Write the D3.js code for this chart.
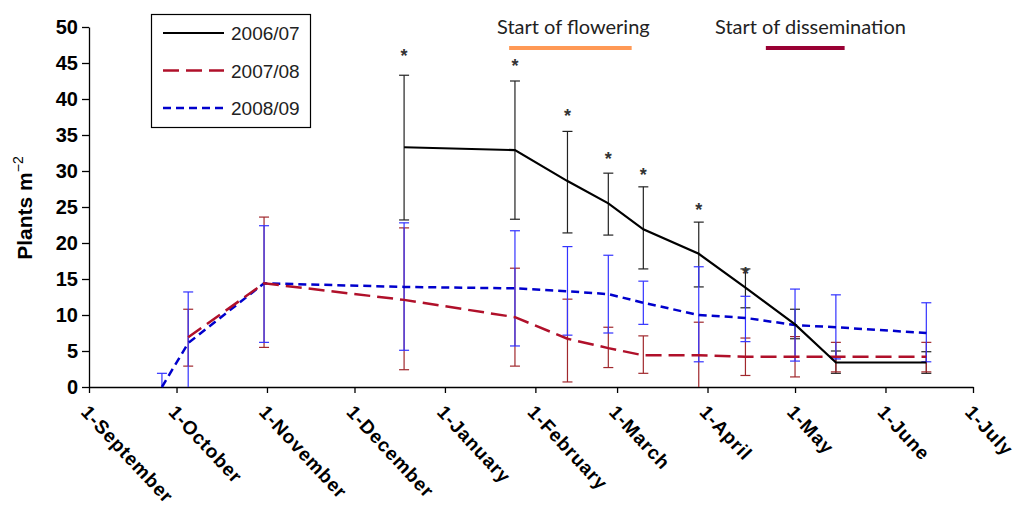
<!DOCTYPE html>
<html>
<head>
<meta charset="utf-8">
<script src="https://cdn.jsdelivr.net/npm/d3@7"></script>
<style>
  body { margin: 0; background: #fff; }
  svg { display: block; }
</style>
</head>
<body>
<div id="chart-area"></div>
<script>
// sampling dates (one season, Sept -> July)
var dates = ["2006-09-26", "2006-10-05", "2006-10-31", "2006-12-18", "2007-01-25", "2007-02-12",
	"2007-02-26", "2007-03-10", "2007-03-29", "2007-04-14", "2007-05-01", "2007-05-15", "2007-06-15"];

var mean06 = [null, null, null, 33.3, 32.9, 28.6, 25.5, 21.9, 18.5, 13.8, 8.7, 3.4, 3.4];
var hi06   = [null, null, null, 43.3, 42.5, 35.5, 29.7, 27.8, 22.9, 16.4, 10.8, 5.0, 4.9];
var lo06   = [null, null, null, 23.2, 23.3, 21.4, 21.1, 16.4, 13.9, 11.0, 6.7, 1.9, 1.9];

var mean07 = [null, 6.9, 14.4, 12.1, 9.7, 6.7, 5.4, 4.4, 4.4, 4.2, 4.2, 4.2, 4.2];
var hi07   = [null, 10.8, 23.6, 22.1, 16.5, 12.2, 8.3, 7.1, 9.0, 6.8, 7.0, 6.2, 6.2];
var lo07   = [null, 2.9, 5.5, 2.4, 2.9, 0.7, 2.7, 1.9, 0, 1.6, 1.4, 2.1, 2.1];

var mean08 = [0, 6.1, 14.4, 13.9, 13.7, 13.3, 12.9, 11.7, 10.0, 9.6, 8.6, 8.3, 7.5];
var hi08   = [1.9, 13.2, 22.4, 22.8, 21.7, 19.5, 18.3, 14.7, 16.7, 12.6, 13.6, 12.8, 11.7];
var lo08   = [0, 0, 6.2, 5.1, 5.7, 7.2, 7.5, 8.7, 3.5, 6.3, 3.6, 3.9, 3.5];

// significance stars (2006/07), height in plants m-2
var stars = [null, null, null, 46.6, 45.2, 38.3, 32.3, 30.1, 25.3, 16.4, null, null, null];

var monthTicks = ["2006-09-01", "2006-10-01", "2006-11-01", "2006-12-01", "2007-01-01", "2007-02-01",
	"2007-03-01", "2007-04-01", "2007-05-01", "2007-06-01", "2007-07-01"];
var monthLabels = ["1-September", "1-October", "1-November", "1-December", "1-January", "1-February",
	"1-March", "1-April", "1-May", "1-June", "1-July"];
var yTicks = [0, 5, 10, 15, 20, 25, 30, 35, 40, 45, 50];

var phases = [
	{label: "Start of flowering", from: "2007-01-23", to: "2007-03-06", color: "#ff9955"},
	{label: "Start of dissemination", from: "2007-04-21", to: "2007-05-18", color: "#990033"}
];

var parse = d3.timeParse("%Y-%m-%d");

var series = [
	{name: "2006/07", mean: mean06, hi: hi06, lo: lo06, color: "#000000", bar: "#222222", dash: null, width: 2.2},
	{name: "2007/08", mean: mean07, hi: hi07, lo: lo07, color: "#b0102a", bar: "#a0282d", dash: "16,7", width: 2.5},
	{name: "2008/09", mean: mean08, hi: hi08, lo: lo08, color: "#0000cc", bar: "#3333ff", dash: "8,5", width: 2.5}
];

var svg = d3.select("#chart-area").append("svg").attr("width", 1020).attr("height", 505);

var x = d3.scaleTime()
	.domain([parse(monthTicks[0]), parse(monthTicks[monthTicks.length - 1])])
	.range([89, 973]);
var y = d3.scaleLinear().domain([0, 50]).range([387, 27]);

// axes
var bottomAxis = d3.axisBottom(x)
	.tickValues(monthTicks.map(parse))
	.tickSize(6)
	.tickSizeOuter(0)
	.tickFormat("");
var leftAxis = d3.axisLeft(y)
	.tickValues(yTicks)
	.tickSize(7)
	.tickSizeOuter(0)
	.tickPadding(4);

var xg = svg.append("g").attr("transform", "translate(0, 387)").call(bottomAxis);
var yg = svg.append("g").attr("transform", "translate(89, 0)").call(leftAxis);

svg.selectAll(".domain, .tick line").attr("stroke", "#000").attr("stroke-width", 1.3);
yg.selectAll("text")
	.attr("font-family", "Liberation Sans, Arial, sans-serif")
	.attr("font-weight", "bold")
	.attr("font-size", "20px")
	.attr("fill", "#000");

svg.append("g").selectAll("text")
	.data(monthTicks)
	.enter().append("text")
	.attr("transform", (d) => "translate(" + (x(parse(d)) - 9) + ", 413) rotate(47)")
	.attr("font-family", "Liberation Sans, Arial, sans-serif")
	.attr("font-weight", "bold")
	.attr("font-size", "19px")
	.attr("letter-spacing", "0.9px")
	.attr("fill", "#000")
	.text((d, i) => monthLabels[i]);

// y label
var ylab = svg.append("text")
	.attr("transform", "translate(32, 208) rotate(-90)")
	.attr("text-anchor", "middle")
	.attr("font-family", "Liberation Sans, Arial, sans-serif")
	.attr("font-weight", "bold")
	.attr("font-size", "21px")
	.attr("fill", "#000");
ylab.append("tspan").text("Plants m");
ylab.append("tspan").attr("dy", "-9").attr("font-size", "14px").attr("font-weight", "normal").text("\u22122");

// error bars
series.forEach(function(s) {
	var pts = dates.map((d, i) => ({date: parse(d), mean: s.mean[i], hi: s.hi[i], lo: s.lo[i]}))
		.filter(d => d.mean != null);
	var g = svg.append("g").attr("stroke", s.bar).attr("stroke-width", 1.2).attr("fill", "none");
	g.selectAll(".v").data(pts).enter().append("line")
		.attr("x1", d => x(d.date)).attr("x2", d => x(d.date))
		.attr("y1", d => y(d.hi)).attr("y2", d => y(d.lo));
	g.selectAll(".top").data(pts).enter().append("line")
		.attr("x1", d => x(d.date) - 5).attr("x2", d => x(d.date) + 5)
		.attr("y1", d => y(d.hi)).attr("y2", d => y(d.hi));
	g.selectAll(".bot").data(pts.filter(d => d.lo > 0)).enter().append("line")
		.attr("x1", d => x(d.date) - 5).attr("x2", d => x(d.date) + 5)
		.attr("y1", d => y(d.lo)).attr("y2", d => y(d.lo));
	s.pts = pts;
});

// lines
var line = d3.line().x(d => x(d.date)).y(d => y(d.mean));
series.slice().reverse().forEach(function(s) {
	svg.append("path")
		.datum(s.pts)
		.attr("d", line)
		.attr("fill", "none")
		.attr("stroke", s.color)
		.attr("stroke-width", s.width)
		.attr("stroke-dasharray", s.dash);
});

// stars
svg.append("g").selectAll("text")
	.data(dates.map((d, i) => ({date: parse(d), v: stars[i]})).filter(d => d.v != null))
	.enter().append("text")
	.attr("x", d => x(d.date))
	.attr("y", d => y(d.v))
	.attr("dy", "0.6em")
	.attr("text-anchor", "middle")
	.attr("font-family", "Liberation Sans, Arial, sans-serif")
	.attr("font-weight", "bold")
	.attr("font-size", "18px")
	.attr("fill", "#333")
	.text("*");

// phase annotations
phases.forEach(function(p) {
	svg.append("line")
		.attr("x1", x(parse(p.from))).attr("x2", x(parse(p.to)))
		.attr("y1", 48).attr("y2", 48)
		.attr("stroke", p.color).attr("stroke-width", 4);
});
svg.append("text").attr("x", 497).attr("y", 34)
	.attr("font-family", "Lato, sans-serif").attr("font-size", "20px").attr("fill", "#222")
	.text(phases[0].label);
svg.append("text").attr("x", 715).attr("y", 34)
	.attr("font-family", "Lato, sans-serif").attr("font-size", "20px").attr("fill", "#222")
	.text(phases[1].label);

// legend
var legend = svg.append("g");
legend.append("rect")
	.attr("x", 151.5).attr("y", 14.5).attr("width", 159).attr("height", 113)
	.attr("fill", "#fff").attr("stroke", "#000").attr("stroke-width", 1.2);
series.forEach(function(s, i) {
	var ly = 33 + i * 37.5;
	legend.append("line")
		.attr("x1", 163).attr("x2", 224).attr("y1", ly).attr("y2", ly)
		.attr("stroke", s.color).attr("stroke-width", s.width)
		.attr("stroke-dasharray", s.dash);
	legend.append("text")
		.attr("x", 231).attr("y", ly + 7)
		.attr("font-family", "Liberation Sans, Arial, sans-serif")
		.attr("font-size", "19px")
		.attr("fill", "#222")
		.text(s.name);
});
</script>
</body>
</html>
